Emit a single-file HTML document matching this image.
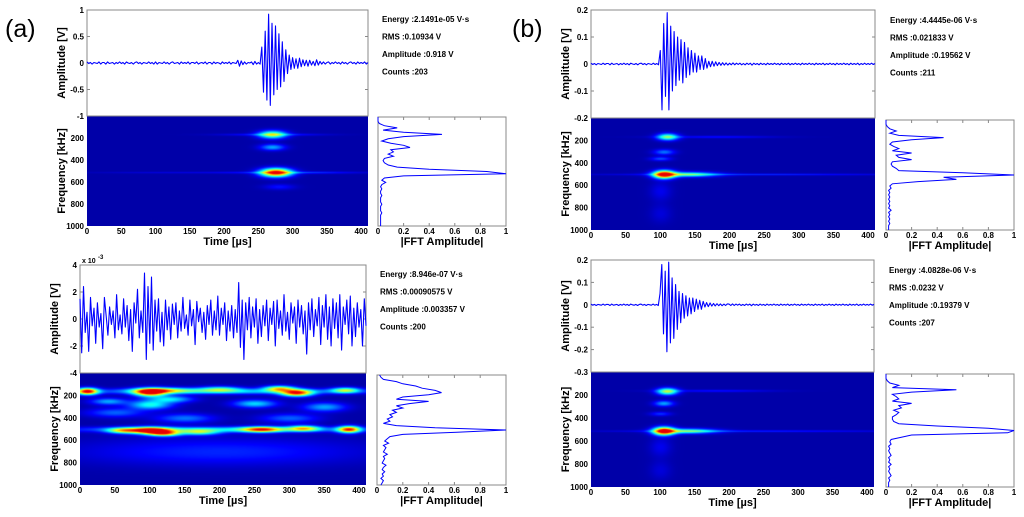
<!DOCTYPE html>
<html><head><meta charset="utf-8">
<style>
body{margin:0;background:#fff;}
#root{position:relative;width:1024px;height:517px;overflow:hidden;background:#fff;font-family:"Liberation Sans",Arial,sans-serif;}
canvas{position:absolute;}
svg{position:absolute;left:0;top:0;}
</style></head>
<body>
<div id="root">
<svg id="svg" width="1024" height="517"></svg>
</div>
<script>
// ---------- DATA ----------
const timeStep = 2.5;
const waveA1 = [0.02,-0.01,0.01,-0.02,0.01,0,-0.01,0.02,-0.02,0.01,0.01,-0.02,0.02,-0.01,0,0.01,-0.02,0.01,-0.01,0.02,
-0.01,0.01,-0.02,0.02,0,-0.01,0.01,-0.02,0.01,0.02,-0.01,0.01,-0.02,0.01,0,-0.01,0.02,-0.01,0.01,-0.02,
0.02,-0.02,0.01,0,-0.01,0.02,-0.01,0.01,-0.02,0.01,0.02,-0.01,0,0.01,-0.02,0.02,-0.01,0.01,-0.01,0.02,
-0.02,0.01,0.01,-0.01,0.02,-0.02,0,0.01,-0.01,0.02,-0.02,0.01,0.01,-0.02,0.02,-0.01,0.01,0,-0.02,0.02,
-0.01,0.01,-0.01,0.02,-0.02,0.01,0,-0.01,
0.05,-0.06,0.04,-0.03,0.02,-0.02,0.01,0,
0.02,-0.03,0.03,-0.02,0.01,-0.02,
0.3,-0.55,0.6,-0.7,0.92,-0.8,0.75,-0.6,0.7,-0.5,0.55,-0.45,0.4,-0.35,0.25,-0.2,
0.15,-0.12,0.1,-0.1,0.08,-0.1,0.09,-0.07,0.06,-0.05,0.05,-0.06,0.05,-0.04,0.03,-0.05,0.06,-0.04,0.03,-0.02,0.02,-0.02,0.01,
0.02,-0.02,0.01,-0.01,0.02,-0.01,0.01,-0.02,0.02,-0.01,0.01,-0.02,0.01,0.02,-0.01,0.01,-0.02,0.02,-0.01,0.01,-0.01,0.02,-0.02,0.01];
const waveA2 = [1.5,-2.5,2.4,-1,0.5,-2.4,1.6,-0.5,0.8,-1.8,1.2,-0.6,0.4,-2.2,1.6,0.2,-1.2,0.9,-0.4,0.6,
-1.4,1.8,-0.8,0.3,-1.1,1.5,-0.6,1.0,-1.6,0.7,-2.4,1.2,-0.3,2.2,-1.4,0.6,-1.0,3.4,-3.0,2.4,
-1.8,3.1,-2.3,1.4,-0.9,1.5,-1.7,0.5,-2.0,1.4,-0.8,0.9,-1.5,1.1,-0.4,1.2,-1.4,0.6,-0.9,1.6,
-0.7,0.3,-1.2,1.4,-0.5,0.7,-1.9,1.3,-0.2,0.8,-1.0,0.5,-1.5,1.0,-0.4,1.4,-1.2,0.6,-0.8,1.7,
-1.2,0.8,-0.4,1.2,-1.6,0.6,-0.9,1.0,-1.4,0.7,-1.0,2.7,-2.1,1.4,-3.0,1.2,-0.8,1.6,-1.4,0.9,
-0.6,1.5,-1.8,0.7,-1.3,1.0,-0.5,1.4,-1.6,0.8,-0.4,1.3,-2.0,1.4,-0.7,0.6,-1.2,1.8,-0.9,0.5,
-1.5,1.2,-0.3,0.9,-1.8,1.4,-0.6,1.0,-1.1,0.6,-2.6,1.2,-0.8,1.5,-1.3,0.7,-0.5,1.6,-1.9,1.0,
-0.6,1.8,-1.5,0.9,-2.0,1.5,-0.7,1.2,-1.4,1.8,-2.3,0.9,-0.4,1.4,-1.1,1.7,-2.0,0.8,-1.3,1.2,-0.6,0.7,-2.0,1.5,-0.5];
const waveB1 = [0.003,-0.002,0.002,-0.003,0.002,0,-0.002,0.003,-0.002,0.002,0.002,-0.003,0.003,-0.002,0,0.002,-0.003,0.002,-0.002,0.003,
-0.002,0.002,-0.003,0.003,0,-0.002,0.002,-0.003,0.002,0.003,-0.002,0.002,-0.003,0.002,0,-0.002,0.003,-0.002,0.002,-0.003,
0.05,-0.17,0.15,-0.12,0.19,-0.17,0.14,-0.1,0.12,-0.08,0.1,-0.06,0.09,-0.07,0.08,-0.05,0.06,-0.04,0.05,-0.03,
0.04,-0.03,0.03,-0.02,0.03,-0.02,0.02,-0.015,0.01,-0.01,0.01,-0.008,0.008,-0.006,0.006,-0.005,0.005,-0.004,0.004,-0.004,
0.003,-0.003,0.004,-0.003,0.003,-0.002,0.003,-0.003,0.002,-0.003,0.003,-0.002,0.003,-0.004,0.003,-0.002,0.002,-0.003,0.003,-0.002,
0.002,-0.003,0.003,-0.002,0.002,-0.002,0.003,-0.002,0.002,-0.003,0.003,-0.002,0.002,-0.002,0.003,-0.003,0.002,-0.002,0.003,-0.002,
0.002,-0.003,0.003,-0.002,0.002,-0.002,0.003,-0.002,0.002,-0.003,0.003,-0.002,0.002,-0.002,0.003,-0.003,0.002,-0.002,0.003,-0.002,
0.002,-0.003,0.003,-0.002,0.002,-0.002,0.003,-0.002,0.002,-0.003,0.003,-0.002,0.002,-0.002,0.003,-0.003,0.002,-0.002,0.003,-0.002,0.002,-0.002,0.003,-0.002,0.002];
const waveB2 = [0.003,-0.002,0.002,-0.003,0.002,0,-0.002,0.003,-0.002,0.002,0.002,-0.003,0.003,-0.002,0,0.002,-0.003,0.002,-0.002,0.003,
-0.002,0.002,-0.003,0.003,0,-0.002,0.002,-0.003,0.002,0.003,-0.002,0.002,-0.003,0.002,0,-0.002,0.003,-0.002,0.002,-0.003,
0.05,0.18,-0.13,0.15,-0.21,0.19,-0.17,0.12,-0.15,0.09,-0.11,0.06,-0.08,0.05,-0.06,0.04,-0.05,0.03,-0.04,0.03,
-0.03,0.025,-0.02,0.02,-0.02,0.015,-0.01,0.01,-0.008,0.008,-0.006,0.006,-0.005,0.005,-0.004,0.004,-0.004,0.003,-0.003,0.004,
0.003,-0.003,0.004,-0.003,0.003,-0.002,0.003,-0.003,0.002,-0.003,0.003,-0.002,0.003,-0.004,0.003,-0.002,0.002,-0.003,0.003,-0.002,
0.002,-0.003,0.003,-0.002,0.002,-0.002,0.003,-0.002,0.002,-0.003,0.003,-0.002,0.002,-0.002,0.003,-0.003,0.002,-0.002,0.003,-0.002,
0.002,-0.003,0.003,-0.002,0.002,-0.002,0.003,-0.002,0.002,-0.003,0.003,-0.002,0.002,-0.002,0.003,-0.003,0.002,-0.002,0.003,-0.002,
0.002,-0.003,0.003,-0.002,0.002,-0.002,0.003,-0.002,0.002,-0.003,0.003,-0.002,0.002,-0.002,0.003,-0.003,0.002,-0.002,0.003,-0.002,0.002,-0.002,0.003,-0.002,0.002];

// spectrogram blobs: [time us, freq kHz, intensity, time spread us, freq spread kHz]
const specA1 = [[270,165,0.5,20,35],[275,510,0.85,22,38],[270,280,0.25,18,28],[280,640,0.1,22,25],[270,165,0.12,70,10],[300,510,0.15,90,10],[120,510,0.05,110,8]];
const specA2 = [[10,160,0.8,15,30],[100,170,0.75,22,35],[310,175,0.72,22,30],[285,135,0.55,22,25],[200,140,0.35,30,25],[120,150,0.4,40,25],[100,510,0.8,28,30],[120,535,0.6,22,25],[260,500,0.6,28,25],[385,500,0.72,16,30],[320,490,0.5,22,25],[170,525,0.4,28,25],[60,510,0.45,22,25],[100,280,0.35,30,40],[250,270,0.3,30,35],[380,150,0.45,20,25],[200,500,0.3,200,25],[200,160,0.28,200,25],[150,400,0.2,40,40],[300,400,0.18,40,40],[50,350,0.18,40,40],[350,300,0.25,30,40],[200,700,0.12,200,120],[130,230,0.3,30,30],[40,250,0.25,25,30]];
const specB1 = [[110,165,0.45,15,30],[105,500,0.85,15,35],[140,500,0.4,40,22],[105,300,0.2,15,25],[100,360,0.16,15,18],[230,500,0.12,200,8],[180,165,0.1,80,10],[100,650,0.07,15,80],[100,850,0.05,15,80]];
const specB2 = [[110,165,0.5,15,30],[105,510,0.85,15,35],[140,510,0.4,40,22],[105,270,0.25,14,25],[100,360,0.13,15,18],[230,510,0.12,200,8],[180,160,0.1,80,10],[100,650,0.07,15,80],[100,850,0.05,15,80]];

// FFT amplitudes at 0,20,...,1000 kHz
const fftA1 = [0,0,0,0.01,0.05,0.15,0.04,0.2,0.5,0.2,0.08,0.03,0.1,0.2,0.25,0.1,0.12,0.08,0.12,0.05,0.04,0.05,0.08,0.15,0.4,0.85,1.0,0.2,0.05,0.03,0.06,0.03,0.02,0.03,0.02,0.02,0.03,0.02,0.02,0.02,0.03,0.02,0.02,0.02,0.03,0.02,0.02,0.02,0.02,0.02,0.02];
const fftA2 = [0.02,0.03,0.05,0.15,0.2,0.3,0.35,0.45,0.5,0.4,0.2,0.15,0.4,0.25,0.15,0.2,0.12,0.15,0.1,0.12,0.08,0.1,0.05,0.15,0.45,1.0,0.62,0.2,0.1,0.08,0.06,0.09,0.05,0.07,0.06,0.05,0.08,0.05,0.06,0.05,0.04,0.07,0.05,0.04,0.06,0.04,0.05,0.03,0.05,0.04,0.03];
const fftB1 = [0,0,0,0.01,0.03,0.08,0.03,0.1,0.45,0.2,0.05,0.03,0.06,0.1,0.05,0.2,0.08,0.1,0.2,0.05,0.04,0.05,0.08,0.1,0.6,1.0,0.45,0.55,0.25,0.05,0.03,0.04,0.02,0.03,0.02,0.03,0.02,0.03,0.02,0.03,0.02,0.04,0.02,0.03,0.02,0.03,0.02,0.03,0.02,0.02,0.02];
const fftB2 = [0,0,0,0.01,0.03,0.1,0.05,0.55,0.2,0.05,0.08,0.1,0.05,0.2,0.1,0.12,0.06,0.1,0.08,0.05,0.05,0.06,0.1,0.4,0.8,1.0,0.95,0.2,0.12,0.04,0.03,0.04,0.02,0.03,0.02,0.03,0.04,0.02,0.03,0.02,0.04,0.02,0.03,0.02,0.03,0.04,0.02,0.03,0.02,0.02,0.02];

const timeTicks = [0,50,100,150,200,250,300,350,400];
const freqTicks = [200,400,600,800,1000];
const fftTicks = [0,0.2,0.4,0.6,0.8,1];
const textA1 = ["Energy :2.1491e-05 V·s","RMS :0.10934 V","Amplitude :0.918 V","Counts :203"];
const textA2 = ["Energy :8.946e-07 V·s","RMS :0.00090575 V","Amplitude :0.003357 V","Counts :200"];
const textB1 = ["Energy :4.4445e-06 V·s","RMS :0.021833 V","Amplitude :0.19562 V","Counts :211"];
const textB2 = ["Energy :4.0828e-06 V·s","RMS :0.0232 V","Amplitude :0.19379 V","Counts :207"];

// ---------- DRAW ----------
const NS = "http://www.w3.org/2000/svg";
const svg = document.getElementById('svg');
const root = document.getElementById('root');
function el(tag, attrs, parent){const e=document.createElementNS(NS,tag);for(const k in attrs)e.setAttribute(k,attrs[k]);(parent||svg).appendChild(e);return e;}
function txt(x,y,s,size,anchor,parent,rot){const t=el('text',{x:x,y:y,'font-size':size,'font-weight':'bold','text-anchor':anchor||'start','font-family':'Liberation Sans, Arial, sans-serif',fill:'#000'},parent);if(rot)t.setAttribute('transform','rotate(-90 '+x+' '+y+')');t.textContent=s;return t;}
const TMAX = 410;
function jet(v){v=Math.max(0,Math.min(1,v));const c=x=>Math.round(255*Math.max(0,Math.min(1,x)));return [c(1.5-Math.abs(4*v-3)),c(1.5-Math.abs(4*v-2)),c(1.5-Math.abs(4*v-1))];}

function quadrant(name,q){
  const g = el('g',{});
  
  
  const W=q.wave; const xs=t=>W.x0+(t/TMAX)*(W.x1-W.x0); const ys=v=>W.y1-(v-W.ymin)/(W.ymax-W.ymin)*(W.y1-W.y0);
  const wbox=el('rect',{x:W.x0,y:W.y0,width:W.x1-W.x0,height:W.y1-W.y0,fill:'#fff',stroke:'#888','stroke-width':1},g);
  
  
  W.ticks.forEach(v=>{const y=ys(v);el('line',{x1:W.x0,x2:W.x0+3,y1:y,y2:y,stroke:'#888'},g);el('line',{x1:W.x1,x2:W.x1-3,y1:y,y2:y,stroke:'#888'},g);txt(W.x0-3,y+3,String(v),8,'end',g);});
  let d='';W.data.forEach((v,i)=>{d+=(i?'L':'M')+xs(i*timeStep).toFixed(1)+' '+ys(v).toFixed(1);});
  const wl=el('path',{d:d,fill:'none',stroke:'#0000ff','stroke-width':1.1,'stroke-linejoin':'round'},g);
  
  
  const yt=txt(W.x0-22,(W.y0+W.y1)/2,'Amplitude [V]',11,'middle',g,true);
  
  
  const S=q.spec; const w=S.x1-S.x0, h=S.y1-S.y0;
  const cv=document.createElement('canvas');cv.width=w;cv.height=h;cv.style.left=S.x0+'px';cv.style.top=S.y0+'px';
  
  
  root.insertBefore(cv,svg);
  const ctx=cv.getContext('2d');const img=ctx.createImageData(w,h);
  for(let py=0;py<h;py++){const f=py/h*1000;for(let px=0;px<w;px++){const t=px/w*TMAX;let v=0.04;
    for(const b of q.blobs){const a=(t-b[0])/b[3],c=(f-b[1])/b[4];const e=a*a+c*c;if(e<12)v+=b[2]*Math.exp(-e);}
    const col=jet(Math.min(v,0.9));const k=(py*w+px)*4;img.data[k]=col[0];img.data[k+1]=col[1];img.data[k+2]=col[2];img.data[k+3]=255;}}
  ctx.putImageData(img,0,0);
  const sx=t=>S.x0+t/TMAX*w, sy=f=>S.y0+f/1000*h;
  timeTicks.forEach(t=>{txt(sx(t),S.y1+8,String(t),8,'middle',g);});
  freqTicks.forEach(f=>{txt(S.x0-3,sy(f)+3,String(f),8,'end',g);});
  const xt=txt((S.x0+S.x1)/2,S.y1+19,'Time [\u00b5s]',11,'middle',g);
  
  
  const ft=txt(S.x0-22,(S.y0+S.y1)/2,'Frequency [kHz]',11,'middle',g,true);
  
  
  const F=q.fft; const fx=v=>F.x0+v*(F.x1-F.x0), fy=f=>F.y0+f/1000*(F.y1-F.y0);
  el('rect',{x:F.x0,y:F.y0,width:F.x1-F.x0,height:F.y1-F.y0,fill:'#fff',stroke:'#888'},g);
  fftTicks.forEach(v=>{txt(fx(v),F.y1+8,String(v),8,'middle',g);el('line',{x1:fx(v),x2:fx(v),y1:F.y1,y2:F.y1-3,stroke:'#888'},g);el('line',{x1:fx(v),x2:fx(v),y1:F.y0,y2:F.y0+3,stroke:'#888'},g);});
  let fd='';q.fftData.forEach((v,i)=>{fd+=(i?'L':'M')+fx(v).toFixed(1)+' '+fy(i*20).toFixed(1);});
  const fl=el('path',{d:fd,fill:'none',stroke:'#0000ff','stroke-width':1},g);
  
  
  const fat=txt((F.x0+F.x1)/2,F.y1+19,'|FFT Amplitude|',11,'middle',g);
  
  
  q.text.forEach((s,i)=>{const t=txt(q.tx,q.ty+i*17.5,s,8,'start',g);});
}
quadrant('panel-a-top',{wave:{x0:87,x1:368,y0:10,y1:116,ymin:-1,ymax:1,ticks:[-1,-0.5,0,0.5,1],data:waveA1},
  spec:{x0:87,x1:368,y0:116,y1:226},blobs:specA1,fft:{x0:378,x1:506,y0:117,y1:226},fftData:fftA1,text:textA1,tx:382,ty:22});
quadrant('panel-a-bottom',{wave:{x0:80,x1:366,y0:265,y1:373,ymin:-4,ymax:4,ticks:[-4,-2,0,2,4],data:waveA2},
  spec:{x0:80,x1:366,y0:373,y1:485},blobs:specA2,fft:{x0:377,x1:506,y0:375,y1:485},fftData:fftA2,text:textA2,tx:380,ty:277});
quadrant('panel-b-top',{wave:{x0:591,x1:875,y0:10,y1:118,ymin:-0.2,ymax:0.2,ticks:[-0.2,-0.1,0,0.1,0.2],data:waveB1},
  spec:{x0:591,x1:875,y0:118,y1:230},blobs:specB1,fft:{x0:886,x1:1014,y0:120,y1:230},fftData:fftB1,text:textB1,tx:890,ty:23});
quadrant('panel-b-bottom',{wave:{x0:591,x1:874,y0:260,y1:372,ymin:-0.3,ymax:0.2,ticks:[-0.3,-0.2,-0.1,0,0.1,0.2],data:waveB2},
  spec:{x0:591,x1:874,y0:372,y1:487},blobs:specB2,fft:{x0:886,x1:1014,y0:374,y1:487},fftData:fftB2,text:textB2,tx:889,ty:273});
const ex=txt(82,263,'x 10',7,'start');


txt(98,259,'-3',6,'start');
const la=el('text',{x:5,y:37,'font-size':25,'font-family':'Liberation Sans, Arial, sans-serif',fill:'#000'});la.textContent='(a)';


const lb=el('text',{x:512,y:37,'font-size':25,'font-family':'Liberation Sans, Arial, sans-serif',fill:'#000'});lb.textContent='(b)';


</script>
</body></html>
